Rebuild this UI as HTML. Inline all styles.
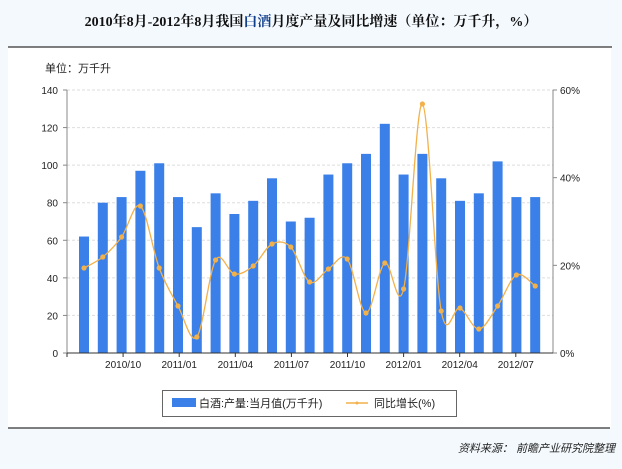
<!DOCTYPE html>
<html><head><meta charset="utf-8"><style>
body{margin:0;width:622px;height:469px;background:#f4f9fd;font-family:"Liberation Sans","Noto Sans CJK SC",sans-serif;position:relative;overflow:hidden}
.t{position:absolute;left:0;width:622px;top:11px;text-align:center;font-family:"Liberation Serif","Noto Serif CJK SC",serif;font-weight:bold;font-size:14px;color:#111}
</style></head><body>
<div class="t">2010年8月-2012年8月我国<span style="color:#123f8a">白酒</span>月度产量及同比增速（单位：万千升，%）</div>
<svg id="s" width="622" height="469" style="position:absolute;left:0;top:0" font-family="Liberation Sans, Noto Sans CJK SC, sans-serif"></svg>
<script>
(function(){
var s='';
s+='<rect x="8" y="47" width="603" height="381" fill="#fff"/>';
s+='<line x1="8" y1="47" x2="612" y2="47" stroke="#333" stroke-width="1.2"/>';
s+='<line x1="8" y1="428" x2="610" y2="428" stroke="#333" stroke-width="1.2"/>';
s+='<text x="45" y="72" font-size="11" fill="#222">单位：万千升</text>';
var y0=353,yt=90,k=(y0-yt)/140;
for(var v=0;v<=140;v+=20){var y=y0-v*k;
 if(v>0)s+='<line x1="67" y1="'+y+'" x2="553" y2="'+y+'" stroke="#ddd" stroke-dasharray="3,2"/>';
 s+='<line x1="63" y1="'+y+'" x2="67" y2="'+y+'" stroke="#888"/>';
 s+='<text x="58" y="'+(y+4)+'" font-size="10" text-anchor="end" fill="#222">'+v+'</text>';}
for(var p=0;p<=60;p+=20){var y=y0-p/60*(y0-yt);
 s+='<line x1="553" y1="'+y+'" x2="557" y2="'+y+'" stroke="#888"/>';
 s+='<text x="560" y="'+(y+4)+'" font-size="10" fill="#222">'+p+'%</text>';}
s+='<line x1="67" y1="'+yt+'" x2="67" y2="'+y0+'" stroke="#888"/>';
s+='<line x1="553" y1="'+yt+'" x2="553" y2="'+y0+'" stroke="#888"/>';
var vals=[62,80,83,97,101,83,67,85,74,81,93,70,72,95,101,106,122,95,106,93,81,85,102,83,83];
var ly=[268,257,237,206,268,306,337,260,274,266,244,247,282,269,259,313,263,289,104,311,308,329,306,275,286];
var pts=[];
for(var i=0;i<25;i++){var cx=84+i*18.8;
 s+='<rect x="'+(cx-5)+'" y="'+(y0-vals[i]*k)+'" width="10" height="'+(vals[i]*k)+'" fill="#3a80e8"/>';
 pts.push([cx,ly[i]]);}
s+='<line x1="67" y1="'+y0+'" x2="553" y2="'+y0+'" stroke="#333"/>';
var labs=['','2010/10','2011/01','2011/04','2011/07','2011/10','2012/01','2012/04','2012/07'];
for(var j=0;j<9;j++){var x=67+j*56.1;
 s+='<line x1="'+x+'" y1="'+y0+'" x2="'+x+'" y2="'+(y0+4)+'" stroke="#333"/>';
 if(labs[j])s+='<text x="'+x+'" y="'+(y0+15)+'" font-size="10" text-anchor="middle" fill="#222">'+labs[j]+'</text>';}
var d='M'+pts[0][0]+' '+pts[0][1];
for(var i=0;i<24;i++){var p0=pts[Math.max(i-1,0)],p1=pts[i],p2=pts[i+1],p3=pts[Math.min(i+2,24)];
 d+=' C'+(p1[0]+(p2[0]-p0[0])/6)+' '+(p1[1]+(p2[1]-p0[1])/6)+' '+(p2[0]-(p3[0]-p1[0])/6)+' '+(p2[1]-(p3[1]-p1[1])/6)+' '+p2[0]+' '+p2[1];}
s+='<path d="'+d+'" fill="none" stroke="#f2b14a" stroke-width="1.3"/>';
pts.forEach(function(p){s+='<circle cx="'+p[0]+'" cy="'+p[1]+'" r="2.6" fill="#f2b14a"/>';});
s+='<rect x="162.5" y="390.5" width="294" height="26" fill="#fff" stroke="#666"/>';
s+='<rect x="172" y="398" width="24" height="9" fill="#3a80e8"/>';
s+='<text x="199" y="407" font-size="11" fill="#222">白酒:产量:当月值(万千升)</text>';
s+='<line x1="346" y1="403" x2="368" y2="403" stroke="#f2b14a" stroke-width="1.5"/><circle cx="357" cy="403" r="1.5" fill="#f2b14a"/>';
s+='<text x="374" y="407" font-size="11" fill="#222">同比增长(%)</text>';
s+='<text x="615" y="452" font-size="11" font-style="italic" text-anchor="end" fill="#222">资料来源： 前瞻产业研究院整理</text>';
document.getElementById('s').innerHTML=s;
})();
</script>
</body></html>
